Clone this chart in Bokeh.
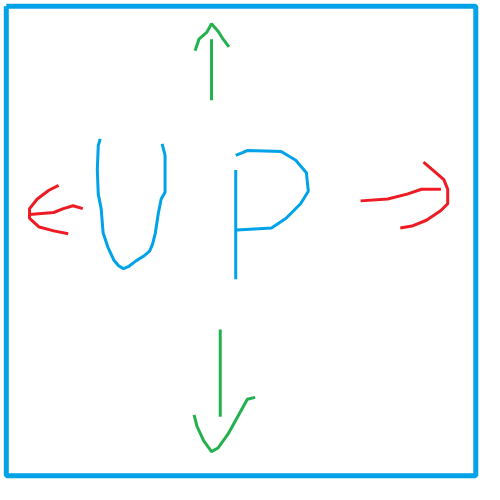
from bokeh.plotting import figure
from bokeh.embed import file_html
from bokeh.resources import INLINE

BLUE = "#00a2e8"
RED = "#ed1c24"
GREEN = "#22b14c"

# strokes, in picture pixels (y grows downward)
u_x = [103, 101, 100, 101, 104, 106, 111, 117, 122, 127, 132, 140, 148, 154, 157, 160, 163, 166, 170, 170, 167]
u_y = [143, 150, 175, 200, 215, 240, 255, 268, 274, 277, 275, 269, 264, 259, 252, 240, 220, 205, 198, 160, 148]
p_stem_x = [243, 243, 243]
p_stem_y = [175, 240, 288]
p_bowl_x = [243, 255, 290, 305, 316, 318, 310, 295, 280, 244]
p_bowl_y = [160, 155, 156, 165, 178, 197, 210, 225, 235, 237]
up_shaft_x = [218, 218]
up_shaft_y = [103, 40]
up_head_x = [201, 205, 213, 218, 225, 230, 236]
up_head_y = [52, 40, 33, 24, 32, 40, 48]
down_shaft_x = [227, 227]
down_shaft_y = [340, 430]
down_head_x = [200, 203, 210, 218, 225, 235, 245, 255, 263]
down_head_y = [428, 440, 455, 466, 462, 448, 430, 412, 410]
left_shaft_x = [85, 75, 65, 55, 30]
left_shaft_y = [215, 212, 215, 219, 221]
left_head_x = [60, 50, 38, 30, 30, 40, 55, 70]
left_head_y = [191, 196, 205, 215, 225, 234, 238, 241]
right_shaft_x = [372, 400, 420, 435, 455]
right_shaft_y = [207, 205, 200, 195, 195]
right_head_x = [437, 450, 458, 462, 462, 455, 440, 425, 413]
right_head_y = [167, 178, 185, 195, 210, 217, 227, 233, 235]
box_x = [6, 491, 491, 6, 6]
box_y = [6, 6, 491, 491, 6]

p = figure(width=484, height=484, x_range=(0, 500), y_range=(500, 0),
           output_backend="svg", toolbar_location=None, min_border=0)
p.axis.visible = False
p.grid.visible = False
p.outline_line_color = None

p.line(box_x, box_y, line_color=BLUE, line_width=5)
for xs, ys, c in [(u_x, u_y, BLUE), (p_stem_x, p_stem_y, BLUE), (p_bowl_x, p_bowl_y, BLUE),
                  (up_shaft_x, up_shaft_y, GREEN), (up_head_x, up_head_y, GREEN),
                  (down_shaft_x, down_shaft_y, GREEN), (down_head_x, down_head_y, GREEN),
                  (left_shaft_x, left_shaft_y, RED), (left_head_x, left_head_y, RED),
                  (right_shaft_x, right_shaft_y, RED), (right_head_x, right_head_y, RED)]:
    p.line(xs, ys, line_color=c, line_width=3)

open("out.html", "w").write(file_html(p, INLINE))
